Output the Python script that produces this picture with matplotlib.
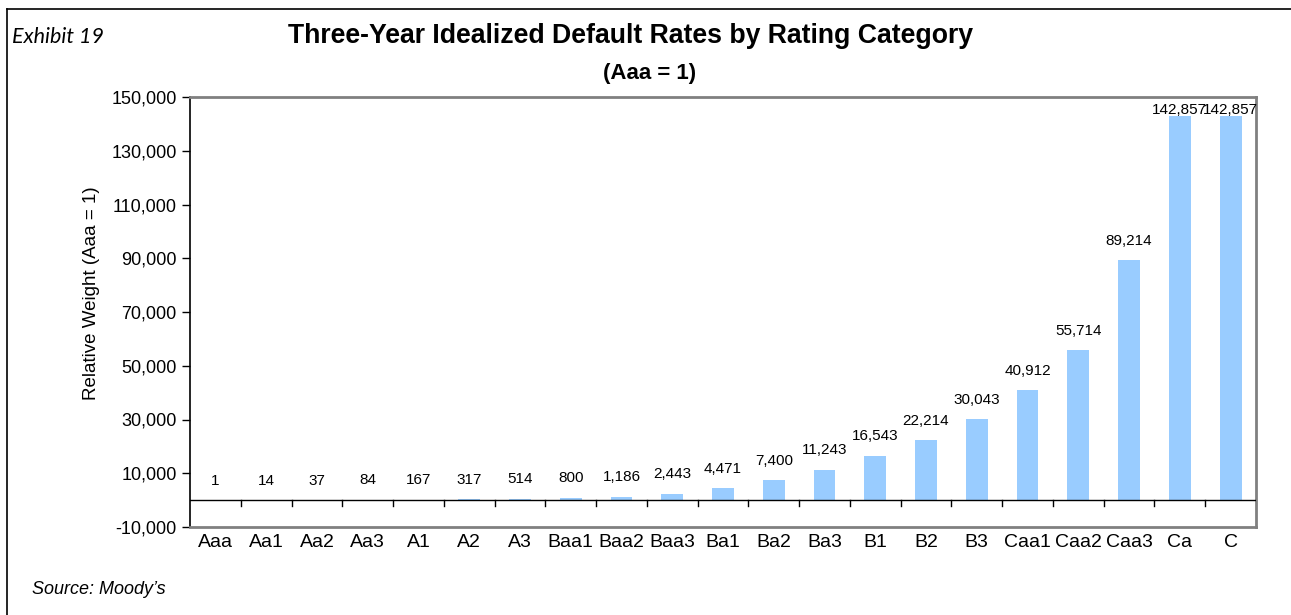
"""Three-year idealized default rates by rating category (Moody's exhibit)."""

import matplotlib.pyplot as plt
import numpy as np
from matplotlib.ticker import FuncFormatter

ratings = ["Aaa", "Aa1", "Aa2", "Aa3", "A1", "A2", "A3", "Baa1", "Baa2", "Baa3",
           "Ba1", "Ba2", "Ba3", "B1", "B2", "B3", "Caa1", "Caa2", "Caa3", "Ca", "C"]
weights = [1, 14, 37, 84, 167, 317, 514, 800, 1186, 2443,
           4471, 7400, 11243, 16543, 22214, 30043, 40912, 55714, 89214, 142857, 142857]
y_ticks = np.arange(-10000, 150001, 20000)

plt.rcParams["font.family"] = ["Liberation Sans", "DejaVu Sans"]

fig = plt.figure(figsize=(12.91, 6.15), dpi=100)
ax = fig.add_axes([190 / 1291, 1 - 527 / 615, (1256 - 190) / 1291, (527 - 97) / 615])

x = np.arange(len(ratings))
ax.bar(x, weights, width=0.43, color="#99CCFF", zorder=2)

# labels sit above each bar, kept inside the plot area near the top
for xi, v in zip(x, weights):
    ax.annotate(f"{v:,}", (xi, min(v, 138000)), xytext=(0, 9), textcoords="offset points",
                ha="center", va="bottom", fontsize=11, color="black")

ax.set_xlim(-0.5, len(ratings) - 0.5)
ax.set_ylim(-10000, 150000)
ax.set_yticks(y_ticks)
ax.yaxis.set_major_formatter(FuncFormatter(lambda v, _: f"{v:,.0f}"))
ax.tick_params(axis="y", direction="out", length=6, labelsize=13, width=1)
ax.set_ylabel("Relative Weight (Aaa = 1)", fontsize=13.5)
ax.yaxis.set_label_coords(-0.084, 0.544)

# category labels under the plot; boundary ticks drawn on the zero line
ax.set_xticks(x)
ax.set_xticklabels(ratings, fontsize=14)
ax.tick_params(axis="x", length=0, pad=5)
ax.axhline(0, color="black", lw=1, zorder=3)
for b in np.arange(0.5, len(ratings) - 0.5, 1.0):
    ax.plot([b, b], [0, -2300], color="black", lw=1, zorder=3, clip_on=False)

for side in ("top", "right", "bottom"):
    ax.spines[side].set_color("#808080")
    ax.spines[side].set_linewidth(2)
ax.spines["left"].set_color("black")
ax.spines["left"].set_linewidth(1.2)

fig.text(630 / 1291, 1 - 36 / 615, "Three-Year Idealized Default Rates by Rating Category",
         ha="center", va="center", fontsize=19.2, fontweight="bold")
fig.text(650 / 1291, 1 - 73 / 615, "(Aaa = 1)", ha="center", va="center",
         fontsize=16, fontweight="bold")
fig.text(12 / 1291, 1 - 37 / 615, "Exhibit 19", ha="left", va="center",
         fontsize=15.5, style="italic", family=["Lato", "DejaVu Sans"])
fig.text(32 / 1291, 1 - 590 / 615, "Source: Moody\u2019s", ha="left", va="center",
         fontsize=13, style="italic")

# outer frame lines (left and top)
fig.add_artist(plt.Line2D([7 / 1291, 7 / 1291], [0, 1 - 9 / 615], color="black", lw=1.2))
fig.add_artist(plt.Line2D([7 / 1291, 1], [1 - 9 / 615, 1 - 9 / 615], color="black", lw=1.2))

fig.savefig("out.png", dpi=100)
